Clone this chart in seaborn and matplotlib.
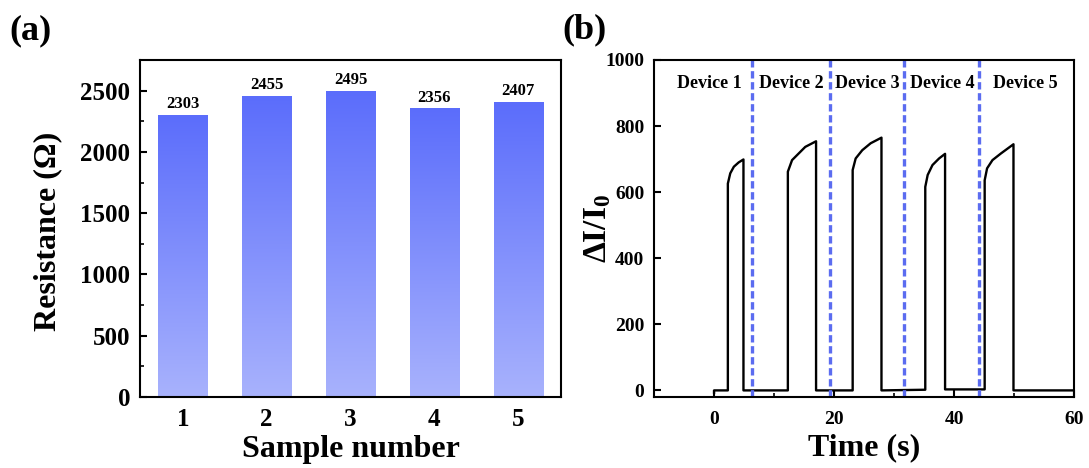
import numpy as np
import seaborn as sns
import matplotlib
matplotlib.use("Agg")
from matplotlib import pyplot as plt
from matplotlib.colors import LinearSegmentedColormap
from matplotlib.ticker import MultipleLocator

# (a) resistance of the five samples
samples = ["1", "2", "3", "4", "5"]
resistance = [2303, 2455, 2495, 2356, 2407]

# (b) response curve
time_s = [0, 0, 2.3,
          2.3, 2.7, 3.3, 4.1, 4.9, 4.9,
          12.3, 12.3, 13.0, 14.1, 15.2, 17.0, 17.0,
          23.1, 23.1, 23.6, 24.7, 26.1, 27.9, 27.9,
          35.2, 35.2, 35.6, 36.4, 37.5, 38.5, 38.5,
          45.1, 45.1, 45.5, 46.4, 47.8, 49.9, 49.9,
          60]
response = [-10, 0, 0,
            626, 657, 677, 690, 699, 0,
            0, 662, 697, 717, 737, 754, 0,
            0, 667, 702, 727, 748, 765, 0,
            2, 616, 652, 682, 702, 716, 3,
            3, 636, 672, 697, 717, 745, 0,
            0]
boundaries = [6.35, 19.3, 31.6, 44.1]
device_names = ["Device 1", "Device 2", "Device 3", "Device 4", "Device 5"]
device_x = [-0.85, 12.9, 25.5, 38.0, 51.9]
device_y = 930

sns.set_style("ticks")
plt.rcParams['font.family'] = ['Liberation Serif', 'DejaVu Serif']
plt.rcParams['font.weight'] = 'bold'
plt.rcParams['axes.labelweight'] = 'bold'
plt.rcParams['text.color'] = 'black'
plt.rcParams['axes.labelcolor'] = 'black'
plt.rcParams['xtick.color'] = 'black'
plt.rcParams['ytick.color'] = 'black'
plt.rcParams['mathtext.fontset'] = 'custom'
plt.rcParams['mathtext.rm'] = 'Liberation Serif:bold'
plt.rcParams['mathtext.bf'] = 'Liberation Serif:bold'
plt.rcParams['mathtext.it'] = 'Liberation Serif:bold:italic'

fig = plt.figure(figsize=(10.89, 4.68), dpi=100)
ax1 = fig.add_axes([0.1286, 0.1517, 0.3866, 0.7201])
ax2 = fig.add_axes([0.6006, 0.1517, 0.3857, 0.7201])

# ---- (a) bars with vertical gradient
sns.barplot(x=samples, y=resistance, width=0.59, color="#7d8cfc", ax=ax1)
cmap = LinearSegmentedColormap.from_list("bar", ["#a8b2fd", "#5b6dfb"])
grad = np.linspace(0, 1, 256).reshape(-1, 1)
for p in ax1.patches:
    x0, w, h = p.get_x(), p.get_width(), p.get_height()
    im = ax1.imshow(grad, extent=[x0, x0 + w, 0, h], origin="lower",
                    aspect="auto", cmap=cmap, zorder=p.get_zorder() + 0.1)
    im.set_clip_path(p)
ax1.bar_label(ax1.containers[0], fontsize=12, fontweight='bold', padding=2)
ax1.set_xlim(-0.51, 4.51)
ax1.set_ylim(0, 2750)
ax1.yaxis.set_major_locator(MultipleLocator(500))
ax1.yaxis.set_minor_locator(MultipleLocator(250))
ax1.tick_params(axis='y', which='major', direction='in', length=5, width=1.5,
                labelsize=18, pad=7)
ax1.tick_params(axis='y', which='minor', direction='in', length=3, width=1.2)
ax1.tick_params(axis='x', length=0, labelsize=18, pad=8)
ax1.set_xlabel("Sample number", fontsize=23)
ax1.set_ylabel("Resistance (Ω)", fontsize=23)
ax1.xaxis.set_label_coords(0.5, -0.112)
ax1.yaxis.set_label_coords(-0.185, 0.49)

# ---- (b) response curve
sns.lineplot(x=time_s, y=response, sort=False, estimator=None,
             color="black", linewidth=1.7, ax=ax2)
for b in boundaries:
    ax2.axvline(b, color="#5b6cf0", linewidth=2.4, linestyle=(0, (2.2, 1.1)))
for name, dx in zip(device_names, device_x):
    ax2.text(dx, device_y, name, ha="center", va="center", fontsize=13,
             fontweight='bold')
ax2.set_xlim(-10, 60)
ax2.set_ylim(-20, 1000)
ax2.xaxis.set_major_locator(MultipleLocator(20))
ax2.xaxis.set_minor_locator(MultipleLocator(10))
ax2.yaxis.set_major_locator(MultipleLocator(200))
ax2.tick_params(which='major', direction='in', length=5, width=1.5,
                labelsize=14)
ax2.tick_params(axis='y', which='major', pad=7)
ax2.tick_params(axis='x', which='major', pad=10)
ax2.tick_params(which='minor', direction='in', length=3, width=1.2)
ax2.set_xlabel("Time (s)", fontsize=23)
ax2.set_ylabel("ΔI/I$_\\mathbf{0}$", fontsize=24)
ax2.xaxis.set_label_coords(0.5, -0.108)
ax2.yaxis.set_label_coords(-0.098, 0.50)

for ax in (ax1, ax2):
    for s in ax.spines.values():
        s.set_visible(True)
        s.set_linewidth(1.5)
        s.set_color("black")

fig.text(9 / 1089, 1 - 31 / 468, "(a)", fontsize=26, fontweight='bold',
         ha="left", va="center")
fig.text(562 / 1089, 1 - 30 / 468, "(b)", fontsize=26, fontweight='bold',
         ha="left", va="center")

fig.savefig("out.png", dpi=100)
